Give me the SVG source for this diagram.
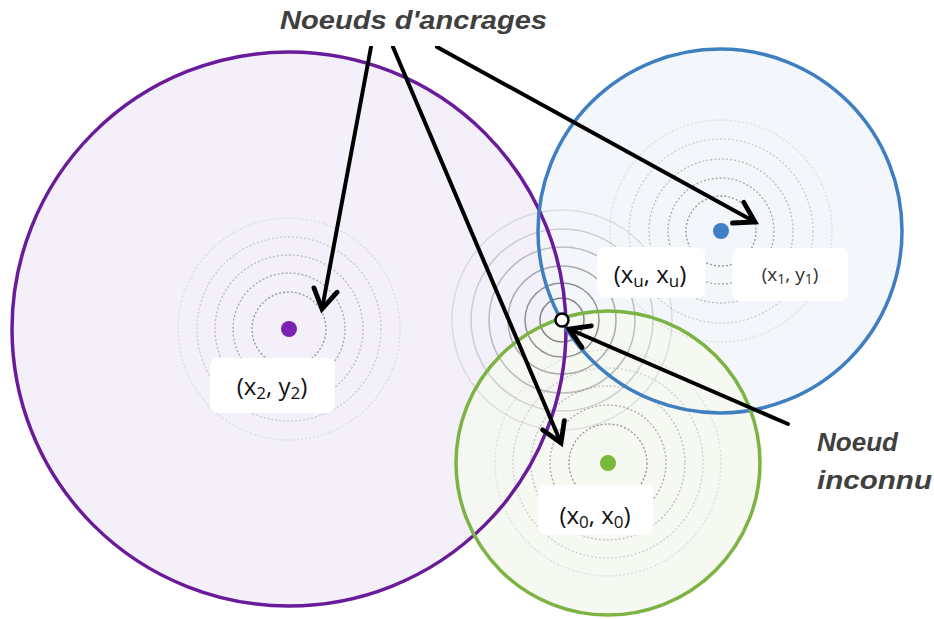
<svg xmlns="http://www.w3.org/2000/svg" width="934" height="619" viewBox="0 0 934 619">
<defs>
<style>
.title{font-family:"Liberation Sans",Arial,sans-serif;font-weight:bold;font-style:italic;font-size:26px;fill:#404040}
.lbl{font-family:"Open Sans","Noto Sans",sans-serif;font-size:24px;fill:#111}
.lbl2{font-family:"Open Sans","Noto Sans",sans-serif;font-size:19px;fill:#333}
.box{fill:#ffffff;stroke:none}
.ring{fill:none;stroke:#888;stroke-width:1.3;stroke-dasharray:2 2}
.uring{fill:none;stroke:#777;stroke-width:1.5}
.arrow{fill:none;stroke:#000;stroke-width:4;stroke-linecap:round}
</style>
<marker id="ah" markerUnits="userSpaceOnUse" markerWidth="30" markerHeight="30" viewBox="-22 -14 26 28" refX="0" refY="0" orient="auto">
<path d="M-18,-11 L0,0 L-18,11" fill="none" stroke="#000" stroke-width="4.5" stroke-linejoin="miter" stroke-linecap="round"/>
</marker>
</defs>
<rect width="934" height="619" fill="#ffffff"/>

<g id="circle-purple">
<circle cx="289" cy="329" r="277" fill="#f3f0f9"/>
</g>
<g id="circle-blue">
<circle cx="720" cy="231" r="182" fill="#f2f6fb" fill-opacity="0.9"/>
</g>
<g id="circle-green">
<circle cx="608" cy="463" r="152" fill="#f5f8f1" fill-opacity="0.9"/>
</g>

<g id="rings">
<g><circle class="ring" cx="289" cy="329" r="37" opacity="0.9"/><circle class="ring" cx="289" cy="329" r="56" opacity="0.7"/><circle class="ring" cx="289" cy="329" r="74" opacity="0.5"/><circle class="ring" cx="289" cy="329" r="92" opacity="0.35"/><circle class="ring" cx="289" cy="329" r="111" opacity="0.2"/></g>
<g><circle class="ring" cx="721" cy="231" r="35" opacity="0.9"/><circle class="ring" cx="721" cy="231" r="53" opacity="0.7"/><circle class="ring" cx="721" cy="231" r="72" opacity="0.5"/><circle class="ring" cx="721" cy="231" r="92" opacity="0.35"/><circle class="ring" cx="721" cy="231" r="111" opacity="0.2"/></g>
<g><circle class="ring" cx="608" cy="463" r="39" opacity="0.9"/><circle class="ring" cx="608" cy="463" r="58" opacity="0.7"/><circle class="ring" cx="608" cy="463" r="77" opacity="0.5"/><circle class="ring" cx="608" cy="463" r="95" opacity="0.35"/><circle class="ring" cx="608" cy="463" r="113" opacity="0.2"/></g>
<g><circle class="uring" cx="562" cy="320" r="22" opacity="0.9"/><circle class="uring" cx="562" cy="320" r="37" opacity="0.8"/><circle class="uring" cx="562" cy="320" r="54" opacity="0.6"/><circle class="uring" cx="562" cy="320" r="73" opacity="0.45"/><circle class="uring" cx="562" cy="320" r="91" opacity="0.3"/><circle class="uring" cx="562" cy="320" r="110" opacity="0.18"/></g>
</g>

<g id="outlines">
<circle cx="289" cy="329" r="277" fill="none" stroke="#6a1b9a" stroke-width="3.5"/>
<circle cx="720" cy="231" r="182" fill="none" stroke="#3f7fc1" stroke-width="3.5"/>
<circle cx="608" cy="463" r="152" fill="none" stroke="#7cb342" stroke-width="3.5"/>
</g>

<g id="node-x2">
<circle cx="289" cy="329" r="8" fill="#7b22b4"/>
<rect class="box" x="210" y="358" width="125" height="55" rx="8"/>
<text class="lbl" x="272" y="395" text-anchor="middle">(x<tspan font-size="17" dy="4">2</tspan><tspan dy="-4">, y</tspan><tspan font-size="17" dy="4">2</tspan><tspan dy="-4">)</tspan></text>
</g>
<g id="node-x1">
<circle cx="721" cy="231" r="8" fill="#3f7fc8"/>
<rect class="box" x="732" y="248" width="116" height="53" rx="8"/>
<text class="lbl2" x="790" y="281" text-anchor="middle">(x<tspan font-size="14" dy="3">1</tspan><tspan dy="-3">, y</tspan><tspan font-size="14" dy="3">1</tspan><tspan dy="-3">)</tspan></text>
</g>
<g id="node-x0">
<circle cx="608" cy="463" r="8" fill="#7cb83a"/>
<rect class="box" x="538" y="485" width="115" height="50" rx="8"/>
<text class="lbl" x="595" y="524" text-anchor="middle">(x<tspan font-size="17" dy="4">0</tspan><tspan dy="-4">, x</tspan><tspan font-size="17" dy="4">0</tspan><tspan dy="-4">)</tspan></text>
</g>
<g id="node-xu">
<rect class="box" x="597" y="247" width="108" height="51" rx="8"/>
<text class="lbl" x="650" y="283" text-anchor="middle">(x<tspan font-size="17" dy="4">u</tspan><tspan dy="-4">, x</tspan><tspan font-size="17" dy="4">u</tspan><tspan dy="-4">)</tspan></text>
</g>

<g id="connectors">
<line class="arrow" x1="371" y1="47" x2="322" y2="309" marker-end="url(#ah)"/>
<line class="arrow" x1="393" y1="47" x2="561" y2="443" marker-end="url(#ah)"/>
<line class="arrow" x1="437" y1="47" x2="755" y2="222" marker-end="url(#ah)"/>
<line class="arrow" x1="788" y1="424" x2="569" y2="329" marker-end="url(#ah)"/>
</g>

<g id="node-unknown">
<circle cx="562" cy="320" r="6.5" fill="#ffffff" stroke="#000" stroke-width="2.5"/>
</g>

<g id="labels">
<rect x="260" y="0" width="310" height="46" fill="#ffffff"/>
<text class="title" x="280" y="29" textLength="267" lengthAdjust="spacingAndGlyphs">Noeuds d'ancrages</text>
<text class="title" x="817" y="451" textLength="81" lengthAdjust="spacingAndGlyphs">Noeud</text>
<text class="title" x="817" y="489" textLength="115" lengthAdjust="spacingAndGlyphs">inconnu</text>
</g>
</svg>
